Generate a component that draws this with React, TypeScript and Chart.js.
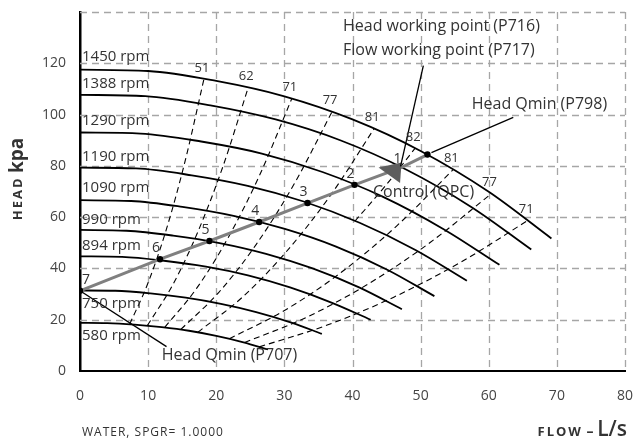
import React, { useEffect, useRef } from 'react';
import { Chart, registerables } from 'chart.js';
Chart.register(...registerables);

const FONT = '"Open Sans", "Noto Sans", sans-serif';

// Speed curves (flow L/s, head kPa)
const speedLabels = ['1450 rpm', '1388 rpm', '1290 rpm', '1190 rpm', '1090 rpm', '990 rpm', '894 rpm', '750 rpm', '580 rpm'];
const flow1450 = [0, 10, 20, 30, 40, 50, 60, 69.2];
const head1450 = [117.5, 117.0, 113.1, 107.1, 98.1, 85.8, 69.9, 51.7];
const flow1388 = [0, 9.57, 19.14, 28.72, 38.29, 47.86, 57.43, 66.24];
const head1388 = [107.7, 107.2, 103.6, 98.1, 89.9, 78.6, 64.0, 47.4];
const flow1290 = [0, 8.9, 17.79, 26.69, 35.59, 44.49, 53.38, 61.57];
const head1290 = [93.0, 92.6, 89.5, 84.8, 77.6, 67.9, 55.3, 41.4];
const flow1190 = [0, 8.21, 16.41, 24.62, 32.83, 41.04, 49.24, 56.79];
const head1190 = [79.3, 79.0, 76.3, 72.2, 66.1, 57.8, 47.2, 35.2];
const flow1090 = [0, 7.52, 15.03, 22.55, 30.07, 37.59, 45.1, 52.02];
const head1090 = [66.6, 66.3, 64.0, 60.5, 55.4, 48.5, 39.5, 29.2];
const flow990 = [0, 6.83, 13.66, 20.48, 27.31, 34.14, 40.97, 47.25];
const head990 = [55.0, 54.7, 52.8, 49.9, 45.7, 40.0, 32.6, 24.1];
const flow894 = [0, 6.17, 12.33, 18.5, 24.66, 30.83, 37.0, 42.67];
const head894 = [44.7, 44.5, 43.0, 40.7, 37.3, 32.6, 26.6, 20.0];
const flow750 = [0, 5.17, 10.34, 15.52, 20.69, 25.86, 31.03, 35.5];
const head750 = [31.4, 31.3, 30.3, 28.6, 26.2, 23.0, 18.9, 14.5];
const flow580 = [0, 4, 8, 12, 16, 20, 24, 27.6];
const head580 = [18.8, 18.7, 18.1, 17.1, 15.7, 13.7, 11.2, 8.4];

// Iso-efficiency curves (%)
const effLabels = ['51', '62', '71', '77', '81', '82', '81', '77', '71'];
const eff51Flow = [7.28, 10.01, 12.74, 15.47, 18.2];
const eff51Head = [18.2, 34.5, 55.8, 82.3, 113.9];
const eff62Flow = [9.88, 13.59, 17.29, 21.0, 24.7];
const eff62Head = [17.7, 33.5, 54.2, 79.9, 110.6];
const eff71Flow = [12.44, 17.11, 21.77, 26.44, 31.1];
const eff71Head = [17.0, 32.2, 52.1, 76.8, 106.3];
const eff77Flow = [14.8, 20.35, 25.9, 31.45, 37.0];
const eff77Head = [16.2, 30.6, 49.5, 73.0, 101.1];
const eff81aFlow = [17.28, 23.76, 30.24, 36.72, 43.2];
const eff81aHead = [15.1, 28.6, 46.4, 68.3, 94.6];
const eff82Flow = [40.34, 44.77, 49.2];
const eff82Head = [58.4, 72.0, 86.9];
const eff81bFlow = [21.92, 30.14, 38.36, 46.58, 54.8];
const eff81bHead = [12.6, 23.8, 38.5, 56.8, 78.6];
const eff77bFlow = [24.16, 33.22, 42.28, 51.34, 60.4];
const eff77bHead = [11.1, 20.9, 33.9, 50.0, 69.2];
const eff71bFlow = [26.32, 36.19, 46.06, 55.93, 65.8];
const eff71bHead = [9.4, 17.8, 28.8, 42.5, 58.8];

// Control curve (QPC)
const controlLabels = ['7', '6', '5', '4', '3', '2', '1', ''];
const controlFlow = [0, 11.75, 19.0, 26.3, 33.4, 40.3, 47.2, 51.0];
const controlHead = [31.3, 43.6, 50.7, 58.1, 65.5, 72.6, 79.4, 84.4];

// Axis ticks
const xTicks = [0, 10, 20, 30, 40, 50, 60, 70, 80];
const yTicks = [0, 20, 40, 60, 80, 100, 120, 140];

const speedFlows = [flow1450, flow1388, flow1290, flow1190, flow1090, flow990, flow894, flow750, flow580];
const speedHeads = [head1450, head1388, head1290, head1190, head1090, head990, head894, head750, head580];
const effFlows = [eff51Flow, eff62Flow, eff71Flow, eff77Flow, eff81aFlow, eff82Flow, eff81bFlow, eff77bFlow, eff71bFlow];
const effHeads = [eff51Head, eff62Head, eff71Head, eff77Head, eff81aHead, eff82Head, eff81bHead, eff77bHead, eff71bHead];

const zip = (xs: number[], ys: number[]) => xs.map((x, i) => ({ x, y: ys[i] }));

// Annotation placement (data coordinates) – layout only
const rpmLabelOffsets = [-13, -11, -12, -11, -12, -10, -11, 13, 13];
const annotations = [
  { text: 'Head working point (P716)', q: 38.6, h: 134.2 },
  { text: 'Flow working point (P717)', q: 38.6, h: 124.9 },
  { text: 'Head Qmin (P798)', q: 57.5, h: 103.8 },
  { text: 'Head Qmin (P707)', q: 12.0, h: 6.2 },
  { text: 'Control (QPC)', q: 43.0, h: 69.8 },
];

const dashedGrid = {
  id: 'dashedGrid',
  beforeDatasetsDraw(chart: any) {
    const { ctx, chartArea, scales } = chart;
    ctx.save();
    ctx.strokeStyle = '#a6a6a6';
    ctx.lineWidth = 1.3;
    ctx.setLineDash([7, 5]);
    xTicks.forEach((v) => {
      if (v === xTicks[0]) return;
      const x = Math.round(scales.x.getPixelForValue(v)) + 0.5;
      ctx.beginPath();
      ctx.moveTo(x, chartArea.top);
      ctx.lineTo(x, chartArea.bottom);
      ctx.stroke();
    });
    yTicks.forEach((v) => {
      if (v === yTicks[0]) return;
      const y = Math.round(scales.y.getPixelForValue(v)) + 0.5;
      ctx.beginPath();
      ctx.moveTo(chartArea.left, y);
      ctx.lineTo(chartArea.right, y);
      ctx.stroke();
    });
    ctx.restore();
  },
};

const overlay = {
  id: 'overlay',
  afterDatasetsDraw(chart: any) {
    const { ctx, scales } = chart;
    const xs = scales.x, ys = scales.y;
    const px = (q: number) => xs.getPixelForValue(q);
    const py = (h: number) => ys.getPixelForValue(h);
    ctx.save();

    // working point triangle
    const i1 = controlLabels.indexOf('1');
    const tx = px(controlFlow[i1]);
    const ty = py(controlHead[i1]);
    ctx.fillStyle = '#5e5e5e';
    ctx.beginPath();
    ctx.moveTo(tx - 23, ty);
    ctx.lineTo(tx, ty - 5);
    ctx.lineTo(tx - 1.5, ty + 15.5);
    ctx.closePath();
    ctx.fill();

    // leader lines
    ctx.strokeStyle = '#000';
    ctx.lineWidth = 1.3;
    const i7 = controlLabels.indexOf('7');
    const iQ = controlLabels.length - 1;
    const leaders = [
      [px(50.4), py(119.1), tx - 1, ty - 1],
      [px(63.6), py(98.9), px(controlFlow[iQ]) + 4, py(controlHead[iQ]) - 2],
      [px(controlFlow[i7]), py(controlHead[i7]), px(12.7), py(9.5)],
    ];
    leaders.forEach(([a, b, c, d]) => {
      ctx.beginPath();
      ctx.moveTo(a, b);
      ctx.lineTo(c, d);
      ctx.stroke();
    });

    // rpm labels
    ctx.fillStyle = '#333';
    ctx.textBaseline = 'middle';
    ctx.textAlign = 'left';
    ctx.font = `15px ${FONT}`;
    speedLabels.forEach((lab, i) => {
      ctx.fillText(lab, px(0) + 2, py(speedHeads[i][0]) + rpmLabelOffsets[i]);
    });

    // efficiency labels
    ctx.textAlign = 'center';
    ctx.font = `13px ${FONT}`;
    effLabels.forEach((lab, i) => {
      const f = effFlows[i], h = effHeads[i];
      ctx.fillText(lab, px(f[f.length - 1]) - 2, py(h[h.length - 1]) - 11);
    });

    // control point labels
    ctx.font = `14px ${FONT}`;
    controlLabels.forEach((lab, i) => {
      if (!lab) return;
      const dx = lab === '7' ? 6 : -4;
      const dy = lab === '1' ? -8 : -11;
      ctx.fillText(lab, px(controlFlow[i]) + dx, py(controlHead[i]) + dy);
    });

    // annotation texts
    ctx.textAlign = 'left';
    ctx.font = `16px ${FONT}`;
    ctx.fillStyle = '#333';
    annotations.forEach((a) => ctx.fillText(a.text, px(a.q), py(a.h)));

    // footnote
    ctx.textBaseline = 'alphabetic';
    ctx.font = `12px ${FONT}`;
    (ctx as any).letterSpacing = '1px';
    ctx.fillText('WATER, SPGR= 1.0000', 82, 436);

    // x title
    ctx.textAlign = 'left';
    const partsX = [
      { t: 'FLOW', f: `bold 13px ${FONT}`, ls: '2px' },
      { t: ' – ', f: `bold 14px ${FONT}`, ls: '0px' },
      { t: 'L/s', f: `600 21px ${FONT}`, ls: '0px' },
    ];
    let wsum = 0;
    partsX.forEach((p) => {
      ctx.font = p.f;
      (ctx as any).letterSpacing = p.ls;
      wsum += ctx.measureText(p.t).width;
    });
    let cx = 627 - wsum;
    partsX.forEach((p) => {
      ctx.font = p.f;
      (ctx as any).letterSpacing = p.ls;
      ctx.fillText(p.t, cx, 436);
      cx += ctx.measureText(p.t).width;
    });

    // y title
    ctx.textBaseline = 'middle';
    const partsY = [
      { t: 'HEAD', f: `bold 13px ${FONT}`, ls: '2px' },
      { t: ' ', f: `bold 13px ${FONT}`, ls: '0px' },
      { t: 'kpa', f: `bold 19px ${FONT}`, ls: '0px' },
    ];
    let hsum = 0;
    partsY.forEach((p) => {
      ctx.font = p.f;
      (ctx as any).letterSpacing = p.ls;
      hsum += ctx.measureText(p.t).width;
    });
    ctx.translate(18, 179);
    ctx.rotate(-Math.PI / 2);
    let u = -hsum / 2;
    partsY.forEach((p) => {
      ctx.font = p.f;
      (ctx as any).letterSpacing = p.ls;
      ctx.fillText(p.t, u, 0);
      u += ctx.measureText(p.t).width;
    });
    ctx.restore();
  },
};

export default function App() {
  const ref = useRef<HTMLCanvasElement>(null);
  useEffect(() => {
    if (!ref.current) return;
    Chart.defaults.font.family = FONT;
    const datasets: any[] = [];
    datasets.push({
      data: zip(controlFlow, controlHead),
      showLine: true,
      borderColor: '#808080',
      borderWidth: 3,
      pointRadius: controlLabels.map((l) => (l === '1' ? 0 : 3.2)),
      pointBackgroundColor: '#000',
      pointBorderWidth: 0,
      order: 0,
    });
    speedFlows.forEach((f, i) => {
      datasets.push({
        data: zip(f, speedHeads[i]),
        showLine: true,
        borderColor: '#000',
        borderWidth: 1.8,
        pointRadius: 0,
        cubicInterpolationMode: 'monotone',
        order: 1,
      });
    });
    effFlows.forEach((f, i) => {
      datasets.push({
        data: zip(f, effHeads[i]),
        showLine: true,
        borderColor: '#000',
        borderWidth: 1.1,
        borderDash: [6, 4],
        pointRadius: 0,
        cubicInterpolationMode: 'monotone',
        order: 2,
      });
    });
    const chart = new Chart(ref.current, {
      type: 'scatter',
      data: { datasets },
      options: {
        animation: false,
        responsive: false,
        events: [],
        layout: { padding: { left: 0, right: 8, top: 12, bottom: 0 } },
        plugins: { legend: { display: false }, tooltip: { enabled: false } },
        scales: {
          x: {
            type: 'linear',
            min: xTicks[0],
            max: xTicks[xTicks.length - 1],
            afterBuildTicks: (s: any) => { s.ticks = xTicks.map((v) => ({ value: v })); },
            ticks: { color: '#444', font: { size: 14, family: FONT }, padding: 17 },
            grid: { display: false, drawTicks: false },
            border: { display: true, color: '#000', width: 2 },
            afterFit: (s: any) => { s.height = 67; s.paddingLeft = 0; s.paddingRight = 0; },
          },
          y: {
            type: 'linear',
            min: yTicks[0],
            max: yTicks[yTicks.length - 1],
            afterBuildTicks: (s: any) => { s.ticks = yTicks.map((v) => ({ value: v })); },
            ticks: {
              color: '#444',
              font: { size: 14, family: FONT },
              padding: 14,
              callback: (v: any) => (v === yTicks[yTicks.length - 1] ? '' : String(v)),
            },
            grid: { display: false, drawTicks: false },
            border: { display: true, color: '#000', width: 2.5 },
            afterFit: (s: any) => { s.width = 80; s.paddingTop = 0; s.paddingBottom = 0; },
          },
        },
      },
      plugins: [dashedGrid, overlay],
    });
    return () => chart.destroy();
  }, []);
  return (
    <div style={{ position: 'fixed', left: 0, top: 0, width: 633, height: 438, background: '#fff' }}>
      <canvas ref={ref} width={633} height={438} style={{ display: 'block' }} />
    </div>
  );
}
